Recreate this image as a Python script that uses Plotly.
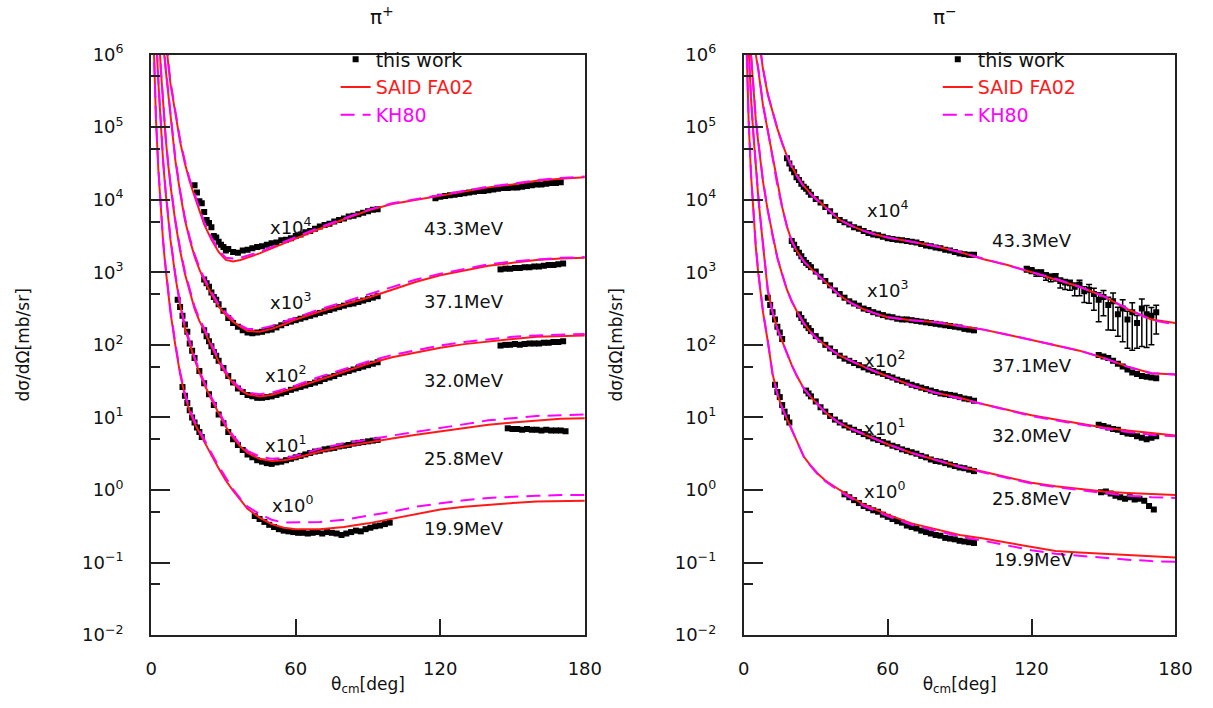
import plotly.graph_objects as go

# ---------------- data (all cross sections given as log10 of dσ/dΩ [mb/sr]) -------------
ANG = [1, 1.5, 2, 3, 4, 5, 6, 7, 8, 10, 12, 14, 16, 18, 20, 22, 25, 28, 31, 34, 37, 40, 45, 50, 55, 60,
       70, 80, 90, 100, 110, 120, 130, 140, 150, 160, 170, 180]

ENERGIES = ["43.3MeV", "37.1MeV", "32.0MeV", "25.8MeV", "19.9MeV"]
SCALES = ["x10<sup>4</sup>", "x10<sup>3</sup>", "x10<sup>2</sup>", "x10<sup>1</sup>", "x10<sup>0</sup>"]

# pi+ : SAID FA02
PIP_SAID_433 = [9.5, 9.0, 8.5, 7.8, 7.2, 6.6, 6.2, 5.9, 5.6, 5.22, 4.8, 4.5, 4.25, 4.05, 3.85, 3.66, 3.45, 3.28, 3.17, 3.15, 3.17, 3.2, 3.26, 3.33, 3.4, 3.47, 3.6, 3.73, 3.85, 3.94, 4.0, 4.06, 4.12, 4.17, 4.21, 4.26, 4.29, 4.31]
PIP_SAID_371 = [9.0, 8.5, 8.0, 7.3, 6.7, 6.15, 5.8, 5.5, 5.2, 4.55, 4.1, 3.72, 3.45, 3.22, 3.04, 2.89, 2.7, 2.53, 2.41, 2.32, 2.25, 2.19, 2.18, 2.22, 2.28, 2.35, 2.46, 2.55, 2.65, 2.76, 2.87, 2.96, 3.03, 3.09, 3.13, 3.17, 3.19, 3.2]
PIP_SAID_320 = [8.3, 7.8, 7.3, 6.4, 5.8, 5.3, 4.85, 4.5, 4.2, 3.7, 3.3, 2.98, 2.72, 2.5, 2.33, 2.2, 1.98, 1.77, 1.6, 1.47, 1.38, 1.32, 1.29, 1.31, 1.36, 1.41, 1.52, 1.63, 1.74, 1.83, 1.9, 1.96, 2.01, 2.05, 2.08, 2.11, 2.12, 2.13]
PIP_SAID_258 = [7.6, 7.0, 6.3, 5.6, 5.0, 4.5, 4.1, 3.75, 3.45, 2.95, 2.55, 2.23, 2.0, 1.8, 1.62, 1.46, 1.25, 1.05, 0.87, 0.72, 0.6, 0.51, 0.43, 0.4, 0.41, 0.44, 0.53, 0.6, 0.66, 0.71, 0.76, 0.81, 0.86, 0.9, 0.93, 0.96, 0.98, 0.99]
PIP_SAID_199 = [6.2, 5.6, 5.1, 4.4, 3.85, 3.4, 3.05, 2.75, 2.45, 2.0, 1.6, 1.3, 1.08, 0.92, 0.79, 0.67, 0.48, 0.3, 0.13, -0.01, -0.14, -0.26, -0.38, -0.47, -0.52, -0.54, -0.54, -0.51, -0.46, -0.4, -0.33, -0.27, -0.23, -0.2, -0.18, -0.16, -0.15, -0.15]

# pi+ : KH80
PIP_KH_433 = [9.5, 9.0, 8.5, 7.8, 7.2, 6.62, 6.23, 5.93, 5.63, 5.25, 4.83, 4.53, 4.28, 4.08, 3.88, 3.69, 3.48, 3.3, 3.2, 3.19, 3.2, 3.23, 3.28, 3.35, 3.42, 3.49, 3.62, 3.74, 3.86, 3.95, 4.01, 4.07, 4.13, 4.18, 4.22, 4.27, 4.3, 4.32]
PIP_KH_371 = [9.0, 8.5, 8.0, 7.3, 6.7, 6.17, 5.83, 5.53, 5.23, 4.58, 4.13, 3.75, 3.48, 3.25, 3.07, 2.92, 2.73, 2.56, 2.44, 2.35, 2.27, 2.22, 2.22, 2.26, 2.32, 2.38, 2.49, 2.59, 2.69, 2.79, 2.9, 2.98, 3.05, 3.11, 3.15, 3.18, 3.2, 3.21]
PIP_KH_320 = [8.3, 7.8, 7.3, 6.4, 5.82, 5.33, 4.88, 4.53, 4.23, 3.73, 3.33, 3.01, 2.75, 2.53, 2.36, 2.23, 2.01, 1.8, 1.63, 1.5, 1.4, 1.34, 1.32, 1.34, 1.39, 1.44, 1.56, 1.67, 1.77, 1.86, 1.93, 1.99, 2.04, 2.08, 2.11, 2.13, 2.14, 2.15]
PIP_KH_258 = [7.6, 7.0, 6.32, 5.63, 5.03, 4.53, 4.13, 3.78, 3.48, 2.98, 2.58, 2.26, 2.03, 1.83, 1.65, 1.49, 1.28, 1.08, 0.9, 0.75, 0.63, 0.54, 0.46, 0.43, 0.44, 0.47, 0.57, 0.64, 0.7, 0.75, 0.8, 0.85, 0.91, 0.96, 0.99, 1.02, 1.03, 1.04]
PIP_KH_199 = [6.2, 5.62, 5.12, 4.43, 3.88, 3.43, 3.08, 2.78, 2.48, 2.03, 1.63, 1.33, 1.11, 0.95, 0.82, 0.7, 0.51, 0.33, 0.16, 0.01, -0.12, -0.23, -0.33, -0.41, -0.45, -0.45, -0.44, -0.41, -0.36, -0.3, -0.23, -0.18, -0.14, -0.11, -0.09, -0.08, -0.07, -0.07]

# pi- : SAID FA02
PIM_SAID_433 = [8.5, 8.0, 7.6, 7.1, 6.75, 6.5, 6.25, 6.0, 5.8, 5.45, 5.2, 4.98, 4.78, 4.6, 4.46, 4.34, 4.19, 4.08, 3.99, 3.9, 3.8, 3.72, 3.64, 3.57, 3.52, 3.48, 3.42, 3.36, 3.28, 3.18, 3.1, 3.0, 2.91, 2.8, 2.67, 2.49, 2.35, 2.3]
PIM_SAID_371 = [8.0, 7.5, 7.1, 6.6, 6.25, 6.0, 5.8, 5.55, 5.3, 4.95, 4.6, 4.2, 3.9, 3.63, 3.43, 3.3, 3.15, 3.05, 2.96, 2.87, 2.78, 2.68, 2.57, 2.49, 2.43, 2.38, 2.34, 2.31, 2.26, 2.21, 2.14, 2.07, 2.0, 1.92, 1.82, 1.7, 1.61, 1.59]
PIM_SAID_320 = [7.5, 7.0, 6.6, 6.0, 5.5, 5.1, 4.8, 4.5, 4.25, 3.85, 3.5, 3.2, 2.97, 2.76, 2.6, 2.47, 2.3, 2.17, 2.07, 1.99, 1.92, 1.85, 1.77, 1.7, 1.63, 1.57, 1.44, 1.34, 1.27, 1.18, 1.1, 1.03, 0.97, 0.91, 0.86, 0.82, 0.78, 0.75]
PIM_SAID_258 = [6.8, 6.4, 6.1, 5.4, 4.9, 4.45, 4.05, 3.7, 3.35, 2.75, 2.45, 2.22, 2.05, 1.88, 1.72, 1.58, 1.4, 1.28, 1.17, 1.07, 0.99, 0.92, 0.84, 0.77, 0.7, 0.63, 0.51, 0.41, 0.32, 0.25, 0.17, 0.1, 0.05, 0.01, -0.02, -0.04, -0.06, -0.07]
PIM_SAID_199 = [6.3, 5.6, 5.1, 4.35, 3.8, 3.35, 3.0, 2.7, 2.45, 2.05, 1.6, 1.32, 1.13, 0.98, 0.83, 0.67, 0.46, 0.33, 0.22, 0.13, 0.06, 0.0, -0.1, -0.2, -0.27, -0.34, -0.46, -0.54, -0.62, -0.67, -0.73, -0.79, -0.84, -0.86, -0.88, -0.9, -0.92, -0.93]

# pi- : KH80
PIM_KH_433 = [8.5, 8.0, 7.6, 7.1, 6.77, 6.52, 6.27, 6.02, 5.82, 5.46, 5.2, 4.98, 4.78, 4.6, 4.45, 4.33, 4.18, 4.07, 3.98, 3.89, 3.8, 3.72, 3.64, 3.57, 3.52, 3.48, 3.42, 3.36, 3.28, 3.19, 3.1, 3.01, 2.91, 2.8, 2.67, 2.5, 2.34, 2.28]
PIM_KH_371 = [8.0, 7.5, 7.1, 6.6, 6.27, 6.02, 5.82, 5.57, 5.32, 4.96, 4.6, 4.2, 3.9, 3.63, 3.43, 3.3, 3.15, 3.05, 2.96, 2.87, 2.78, 2.68, 2.57, 2.49, 2.43, 2.38, 2.34, 2.31, 2.26, 2.21, 2.14, 2.07, 2.0, 1.92, 1.82, 1.7, 1.61, 1.59]
PIM_KH_320 = [7.5, 7.0, 6.62, 6.02, 5.52, 5.12, 4.82, 4.52, 4.27, 3.86, 3.5, 3.2, 2.97, 2.76, 2.6, 2.47, 2.3, 2.17, 2.07, 1.99, 1.92, 1.85, 1.77, 1.7, 1.63, 1.57, 1.44, 1.34, 1.26, 1.17, 1.09, 1.02, 0.96, 0.9, 0.85, 0.8, 0.76, 0.74]
PIM_KH_258 = [6.8, 6.4, 6.12, 5.42, 4.92, 4.47, 4.07, 3.72, 3.37, 2.76, 2.45, 2.22, 2.05, 1.88, 1.72, 1.58, 1.4, 1.28, 1.17, 1.07, 0.99, 0.92, 0.84, 0.77, 0.7, 0.63, 0.51, 0.41, 0.32, 0.24, 0.16, 0.09, 0.04, 0.0, -0.05, -0.08, -0.1, -0.11]
PIM_KH_199 = [6.3, 5.62, 5.12, 4.37, 3.82, 3.37, 3.02, 2.72, 2.47, 2.06, 1.6, 1.32, 1.13, 0.98, 0.83, 0.67, 0.46, 0.33, 0.21, 0.12, 0.05, -0.02, -0.12, -0.22, -0.29, -0.36, -0.48, -0.56, -0.64, -0.7, -0.77, -0.83, -0.88, -0.91, -0.94, -0.96, -0.98, -0.99]

# ---------------- measured points ("this work") ----------------
# pi+
PIP_D433_X = [18, 19, 20, 21, 22, 23, 24, 25, 26, 27, 28, 29, 30, 31, 32, 34, 36, 38, 40, 42, 44, 46, 48, 50, 52, 54, 56, 58, 60, 62, 64, 66, 68, 70, 72, 74, 76, 78, 80, 82, 84, 86, 88, 90, 92, 94,
              118, 120, 122, 124, 126, 128, 130, 132, 134, 136, 138, 140, 142, 144, 146, 148, 150, 152, 154, 156, 158, 160, 162, 164, 166, 168, 170]
PIP_D433_Y = [4.2, 4.1, 3.98, 3.95, 3.83, 3.72, 3.68, 3.62, 3.5, 3.48, 3.42, 3.38, 3.35, 3.3, 3.32, 3.28, 3.27, 3.3, 3.31, 3.33, 3.35, 3.36, 3.38, 3.4, 3.41, 3.44, 3.45, 3.47, 3.5, 3.52, 3.55, 3.57, 3.6, 3.63, 3.65, 3.67, 3.7, 3.72, 3.74, 3.77, 3.78, 3.8, 3.82, 3.84, 3.86, 3.87,
              4.02, 4.04, 4.05, 4.06, 4.07, 4.08, 4.09, 4.1, 4.11, 4.12, 4.12, 4.13, 4.14, 4.15, 4.16, 4.16, 4.17, 4.17, 4.18, 4.19, 4.2, 4.21, 4.21, 4.22, 4.23, 4.23, 4.24]
PIP_D371_X = [22, 23, 24, 25, 26, 27, 28, 30, 32, 34, 36, 38, 40, 42, 44, 46, 48, 50, 52, 54, 56, 58, 60, 62, 64, 66, 68, 70, 72, 74, 76, 78, 80, 82, 84, 86, 88, 90, 92, 94,
              145, 147, 149, 151, 153, 155, 157, 159, 161, 163, 165, 167, 169, 171]
PIP_D371_Y = [2.9, 2.85, 2.8, 2.72, 2.66, 2.62, 2.56, 2.47, 2.37, 2.3, 2.25, 2.2, 2.17, 2.16, 2.17, 2.18, 2.2, 2.21, 2.24, 2.27, 2.3, 2.32, 2.34, 2.36, 2.38, 2.4, 2.42, 2.44, 2.46, 2.48, 2.5, 2.52, 2.54, 2.56, 2.57, 2.59, 2.61, 2.63, 2.65, 2.67,
              3.04, 3.05, 3.05, 3.06, 3.06, 3.07, 3.07, 3.08, 3.08, 3.09, 3.1, 3.1, 3.11, 3.12]
PIP_D320_X = [22, 23, 24, 25, 26, 27, 28, 30, 32, 34, 36, 38, 40, 42, 44, 46, 48, 50, 52, 54, 56, 58, 60, 62, 64, 66, 68, 70, 72, 74, 76, 78, 80, 82, 84, 86, 88, 90, 92, 94,
              145, 147, 149, 151, 153, 155, 157, 159, 161, 163, 165, 167, 169, 171]
PIP_D320_Y = [2.2, 2.12, 2.05, 1.98, 1.9, 1.85, 1.78, 1.68, 1.57, 1.48, 1.4, 1.35, 1.31, 1.29, 1.27, 1.27, 1.28, 1.29, 1.31, 1.33, 1.35, 1.38, 1.4, 1.42, 1.44, 1.46, 1.48, 1.5, 1.53, 1.55, 1.57, 1.6, 1.62, 1.64, 1.66, 1.68, 1.7, 1.72, 1.74, 1.76,
              1.99, 2.0, 2.0, 2.01, 2.0, 2.01, 2.02, 2.02, 2.02, 2.03, 2.03, 2.04, 2.04, 2.05]
PIP_D258_X = [11, 12, 13, 14, 15, 16, 17, 18, 20, 22, 24, 26, 28, 30, 32, 34, 36, 38, 40, 42, 44, 46, 48, 50, 52, 54, 56, 58, 60, 62, 64, 66, 68, 70, 72, 74, 76, 78, 80, 82, 84, 86, 88, 90, 92, 94,
              148, 150, 152, 154, 156, 158, 160, 162, 164, 166, 168, 170, 172]
PIP_D258_Y = [2.62, 2.52, 2.4, 2.28, 2.18, 2.02, 1.92, 1.82, 1.64, 1.47, 1.32, 1.17, 1.04, 0.92, 0.8, 0.7, 0.62, 0.55, 0.49, 0.45, 0.41, 0.39, 0.37, 0.36, 0.38, 0.39, 0.41, 0.43, 0.45, 0.47, 0.49, 0.51, 0.53, 0.54, 0.56, 0.57, 0.58, 0.6, 0.61, 0.62, 0.64, 0.65, 0.66, 0.67, 0.68, 0.69,
              0.85, 0.84, 0.84, 0.83, 0.84, 0.83, 0.83, 0.82, 0.83, 0.82, 0.82, 0.82, 0.81]
PIP_D199_X = [13, 14, 15, 16, 17, 18, 19, 20, 21, 43, 45, 47, 49, 51, 53, 55, 57, 59, 61, 63, 65, 67, 69, 71, 73, 75, 77, 79, 81, 83, 85, 87, 89, 91, 93, 95, 97, 99]
PIP_D199_Y = [1.42, 1.3, 1.2, 1.1, 1.0, 0.93, 0.86, 0.8, 0.73, -0.36, -0.4, -0.44, -0.48, -0.51, -0.54, -0.56, -0.57, -0.58, -0.59, -0.59, -0.6, -0.59, -0.58, -0.6, -0.58, -0.59, -0.6, -0.62, -0.6, -0.58, -0.56, -0.57, -0.54, -0.52, -0.5, -0.49, -0.47, -0.45]

# pi-
PIM_D433_X = [18, 19, 20, 21, 22, 23, 24, 25, 26, 27, 28, 30, 32, 34, 36, 38, 40, 42, 44, 46, 48, 50, 52, 54, 56, 58, 60, 62, 64, 66, 68, 70, 72, 74, 76, 78, 80, 82, 84, 86, 88, 90, 92, 94, 96]
PIM_D433_Y = [4.57, 4.5, 4.43, 4.38, 4.31, 4.27, 4.22, 4.18, 4.15, 4.11, 4.07, 4.01, 3.96, 3.9, 3.84, 3.78, 3.72, 3.69, 3.66, 3.62, 3.6, 3.57, 3.54, 3.52, 3.51, 3.49, 3.47, 3.46, 3.45, 3.44, 3.43, 3.42, 3.41, 3.39, 3.37, 3.36, 3.34, 3.33, 3.31, 3.3, 3.28, 3.26, 3.25, 3.24, 3.24]
PIM_D433B_X = [118, 120, 122, 124, 126, 128, 130, 132, 134, 136, 138, 140, 142, 144, 146, 148, 150, 152, 154, 156, 158, 160, 162, 164, 166, 168, 170, 172]
PIM_D433B_Y = [3.05, 3.03, 3.0, 3.0, 2.96, 2.94, 2.95, 2.88, 2.86, 2.85, 2.8, 2.83, 2.74, 2.76, 2.7, 2.62, 2.66, 2.55, 2.6, 2.42, 2.5, 2.35, 2.45, 2.3, 2.5, 2.42, 2.4, 2.45]
PIM_D433B_ERR = [0.1, 0.1, 0.12, 0.12, 0.15, 0.15, 0.15, 0.2, 0.2, 0.2, 0.25, 0.3, 0.3, 0.35, 0.4, 0.5, 0.45, 0.55, 0.6, 0.5, 0.65, 0.6, 0.7, 0.55, 0.7, 0.65, 0.6, 0.5]
PIM_D371_X = [20, 21, 22, 23, 24, 25, 26, 27, 28, 30, 32, 34, 36, 38, 40, 42, 44, 46, 48, 50, 52, 54, 56, 58, 60, 62, 64, 66, 68, 70, 72, 74, 76, 78, 80, 82, 84, 86, 88, 90, 92, 94, 96,
              148, 150, 152, 154, 156, 158, 160, 162, 164, 166, 168, 170, 172]
PIM_D371_Y = [3.43, 3.38, 3.32, 3.27, 3.22, 3.17, 3.13, 3.1, 3.07, 3.01, 2.94, 2.88, 2.82, 2.75, 2.7, 2.65, 2.6, 2.57, 2.54, 2.5, 2.48, 2.45, 2.43, 2.41, 2.39, 2.38, 2.36, 2.35, 2.35, 2.34, 2.33, 2.32, 2.31, 2.3, 2.29, 2.28, 2.27, 2.26, 2.25, 2.24, 2.22, 2.21, 2.2,
              1.86, 1.84, 1.82, 1.78, 1.74, 1.7, 1.66, 1.62, 1.6, 1.57, 1.56, 1.55, 1.54]
PIM_D320_X = [23, 24, 25, 26, 27, 28, 30, 32, 34, 36, 38, 40, 42, 44, 46, 48, 50, 52, 54, 56, 58, 60, 62, 64, 66, 68, 70, 72, 74, 76, 78, 80, 82, 84, 86, 88, 90, 92, 94, 96,
              148, 150, 152, 154, 156, 158, 160, 162, 164, 166, 168, 170, 172]
PIM_D320_Y = [2.42, 2.37, 2.32, 2.27, 2.23, 2.19, 2.12, 2.07, 2.0, 1.95, 1.9, 1.85, 1.81, 1.78, 1.75, 1.72, 1.69, 1.66, 1.64, 1.62, 1.6, 1.57, 1.55, 1.52, 1.5, 1.48, 1.45, 1.43, 1.41, 1.39, 1.37, 1.35, 1.33, 1.32, 1.31, 1.3, 1.28, 1.26, 1.25, 1.23,
              0.9, 0.88, 0.86, 0.84, 0.83, 0.8, 0.78, 0.77, 0.74, 0.72, 0.7, 0.72, 0.74]
PIM_D258_X = [10, 11, 12, 13, 14, 15, 16, 26, 27, 28, 30, 32, 34, 36, 38, 40, 42, 44, 46, 48, 50, 52, 54, 56, 58, 60, 62, 64, 66, 68, 70, 72, 74, 76, 78, 80, 82, 84, 86, 88, 90, 92, 94, 96,
              149, 151, 153, 155, 157, 159, 161, 163, 165, 167, 169, 171]
PIM_D258_Y = [2.65, 2.55, 2.45, 2.35, 2.25, 2.17, 2.08, 1.37, 1.33, 1.29, 1.22, 1.14, 1.08, 1.02, 0.97, 0.93, 0.89, 0.86, 0.83, 0.8, 0.77, 0.74, 0.71, 0.69, 0.66, 0.64, 0.61, 0.59, 0.56, 0.54, 0.52, 0.5, 0.47, 0.45, 0.42, 0.4, 0.39, 0.37, 0.35, 0.33, 0.31, 0.3, 0.28, 0.26,
              -0.03, -0.02, -0.05, -0.08, -0.1, -0.12, -0.1, -0.13, -0.12, -0.15, -0.22, -0.27]
PIM_D199_X = [13, 14, 15, 16, 17, 18, 19, 42, 44, 46, 48, 50, 52, 54, 56, 58, 60, 62, 64, 66, 68, 70, 72, 74, 76, 78, 80, 82, 84, 86, 88, 90, 92, 94, 96]
PIM_D199_Y = [1.45, 1.35, 1.28, 1.17, 1.08, 1.0, 0.93, -0.06, -0.1, -0.14, -0.18, -0.22, -0.25, -0.28, -0.3, -0.34, -0.37, -0.4, -0.43, -0.45, -0.49, -0.51, -0.53, -0.56, -0.58, -0.6, -0.62, -0.63, -0.66, -0.67, -0.68, -0.7, -0.71, -0.72, -0.73]

Y_TICKS = [-2, -1, 0, 1, 2, 3, 4, 5, 6]
Y_TICKTEXT = ["10<sup>\u22122</sup>", "10<sup>\u22121</sup>", "10<sup>0</sup>", "10<sup>1</sup>", "10<sup>2</sup>",
              "10<sup>3</sup>", "10<sup>4</sup>", "10<sup>5</sup>", "10<sup>6</sup>"]
X_TICKS = [0, 60, 120, 180]

# label positions (angle, log10 value)
PIP_SCALE_POS = [(58, 3.64), (58, 2.6), (56, 1.6), (56, 0.64), (59, -0.2)]
PIP_EN_POS = [(130, 3.61), (130, 2.6), (130, 1.51), (130, 0.44), (130, -0.53)]
PIM_SCALE_POS = [(60, 3.87), (60, 2.77), (59, 1.81), (59, 0.87), (59, 0.0)]
PIM_EN_POS = [(120, 3.44), (120, 1.71), (120, 0.75), (120, -0.12), (121, -0.96)]

# ---------------- figure ----------------
FONT = "DejaVu Sans"
RED = "#ff1a1a"
MAG = "#ff00ff"


def lin(vals):
    return [10 ** v for v in vals]


fig = go.Figure()

panels = [
    dict(xa="x", ya="y", leg="legend",
         said=[PIP_SAID_433, PIP_SAID_371, PIP_SAID_320, PIP_SAID_258, PIP_SAID_199],
         kh=[PIP_KH_433, PIP_KH_371, PIP_KH_320, PIP_KH_258, PIP_KH_199],
         data=[(PIP_D433_X, PIP_D433_Y), (PIP_D371_X, PIP_D371_Y), (PIP_D320_X, PIP_D320_Y),
               (PIP_D258_X, PIP_D258_Y), (PIP_D199_X, PIP_D199_Y)],
         spos=PIP_SCALE_POS, epos=PIP_EN_POS),
    dict(xa="x2", ya="y2", leg="legend2",
         said=[PIM_SAID_433, PIM_SAID_371, PIM_SAID_320, PIM_SAID_258, PIM_SAID_199],
         kh=[PIM_KH_433, PIM_KH_371, PIM_KH_320, PIM_KH_258, PIM_KH_199],
         data=[(PIM_D433_X, PIM_D433_Y), (PIM_D371_X, PIM_D371_Y), (PIM_D320_X, PIM_D320_Y),
               (PIM_D258_X, PIM_D258_Y), (PIM_D199_X, PIM_D199_Y)],
         spos=PIM_SCALE_POS, epos=PIM_EN_POS),
]

annotations = []
for p in panels:
    # measured points
    for i, (dx, dy) in enumerate(p["data"]):
        fig.add_trace(go.Scatter(
            x=dx, y=lin(dy), mode="markers", xaxis=p["xa"], yaxis=p["ya"],
            marker=dict(symbol="square", size=6, color="black"),
            name="this work", legend=p["leg"], legendgroup=p["leg"] + "d",
            showlegend=(i == 0)))
    if p["xa"] == "x2":
        yv = lin(PIM_D433B_Y)
        fig.add_trace(go.Scatter(
            x=PIM_D433B_X, y=yv, mode="markers", xaxis="x2", yaxis="y2",
            marker=dict(symbol="square", size=6, color="black"),
            error_y=dict(type="data", array=[v * e * 0.5 for v, e in zip(yv, PIM_D433B_ERR)],
                         arrayminus=[v * e for v, e in zip(yv, PIM_D433B_ERR)],
                         color="black", thickness=1.5, width=3),
            name="this work", legend="legend2", legendgroup="legend2d", showlegend=False))
    # SAID
    for i, c in enumerate(p["said"]):
        fig.add_trace(go.Scatter(
            x=ANG, y=lin(c), mode="lines", xaxis=p["xa"], yaxis=p["ya"],
            line=dict(color=RED, width=2),
            name='<span style="color:#ff1a1a">SAID FA02</span>', legend=p["leg"],
            legendgroup=p["leg"] + "s", showlegend=(i == 0)))
    # KH80
    for i, c in enumerate(p["kh"]):
        fig.add_trace(go.Scatter(
            x=ANG, y=lin(c), mode="lines", xaxis=p["xa"], yaxis=p["ya"],
            line=dict(color=MAG, width=2, dash="14px,8px"),
            name='<span style="color:#ff00ff">KH80</span>', legend=p["leg"],
            legendgroup=p["leg"] + "k", showlegend=(i == 0)))
    for (sx, sy), txt in zip(p["spos"], SCALES):
        annotations.append(dict(x=sx, y=sy, xref=p["xa"], yref=p["ya"], text=txt, showarrow=False,
                                font=dict(family=FONT, size=18, color="#111")))
    for (ex, ey), txt in zip(p["epos"], ENERGIES):
        annotations.append(dict(x=ex, y=ey, xref=p["xa"], yref=p["ya"], text=txt, showarrow=False,
                                font=dict(family=FONT, size=18, color="#111")))

annotations.append(dict(x=0.304, y=1.0, xref="paper", yref="paper", yanchor="top", yshift=12,
                        text="\u03c0<sup>+</sup>", showarrow=False,
                        font=dict(family=FONT, size=20, color="#111")))
annotations.append(dict(x=0.801, y=1.0, xref="paper", yref="paper", yanchor="top", yshift=12,
                        text="\u03c0<sup>\u2212</sup>", showarrow=False,
                        font=dict(family=FONT, size=20, color="#111")))

axis_common = dict(showline=True, linewidth=2, linecolor="#222", mirror=True, showgrid=False, zeroline=False,
                   ticks="inside", tickcolor="#222", tickwidth=2,
                   tickfont=dict(family=FONT, size=18, color="#111"))

xax = dict(axis_common, range=[0, 180], tickvals=X_TICKS, ticklen=16, ticklabelstandoff=16,
           title=dict(text="\u03b8<sub>cm</sub>[deg]", font=dict(family=FONT, size=17, color="#111"), standoff=0))
yax = dict(axis_common, type="log", range=[-2, 6], tickvals=lin(Y_TICKS), ticktext=Y_TICKTEXT,
           ticklen=19, ticklabelstandoff=22,
           minor=dict(tickvals=lin([-1.301, -0.301, 0.699, 1.699, 2.699, 3.699, 4.699, 5.699]),
                      ticks="inside", ticklen=9, tickwidth=2, tickcolor="#222"),
           title=dict(text="d\u03c3/d\u03a9[mb/sr]", font=dict(family=FONT, size=17, color="#111"), standoff=48))

legend_common = dict(xref="paper", yref="paper", xanchor="left", yanchor="top", bgcolor="rgba(0,0,0,0)",
                     font=dict(family=FONT, size=19, color="#111"), tracegroupgap=0, traceorder="grouped")

fig.update_layout(
    width=1213, height=708, margin=dict(l=0, r=0, t=0, b=0),
    paper_bgcolor="white", plot_bgcolor="white",
    xaxis=dict(xax, domain=[0.1220, 0.4864], anchor="y"),
    yaxis=dict(yax, domain=[0.0918, 0.9393], anchor="x"),
    xaxis2=dict(xax, domain=[0.6200, 0.9827], anchor="y2"),
    yaxis2=dict(yax, domain=[0.0918, 0.9393], anchor="x2"),
    legend=dict(legend_common, x=0.277, y=0.960),
    legend2=dict(legend_common, x=0.783, y=0.960),
    annotations=annotations,
    font=dict(family=FONT, color="#111"),
)

fig.write_html("out.html")
